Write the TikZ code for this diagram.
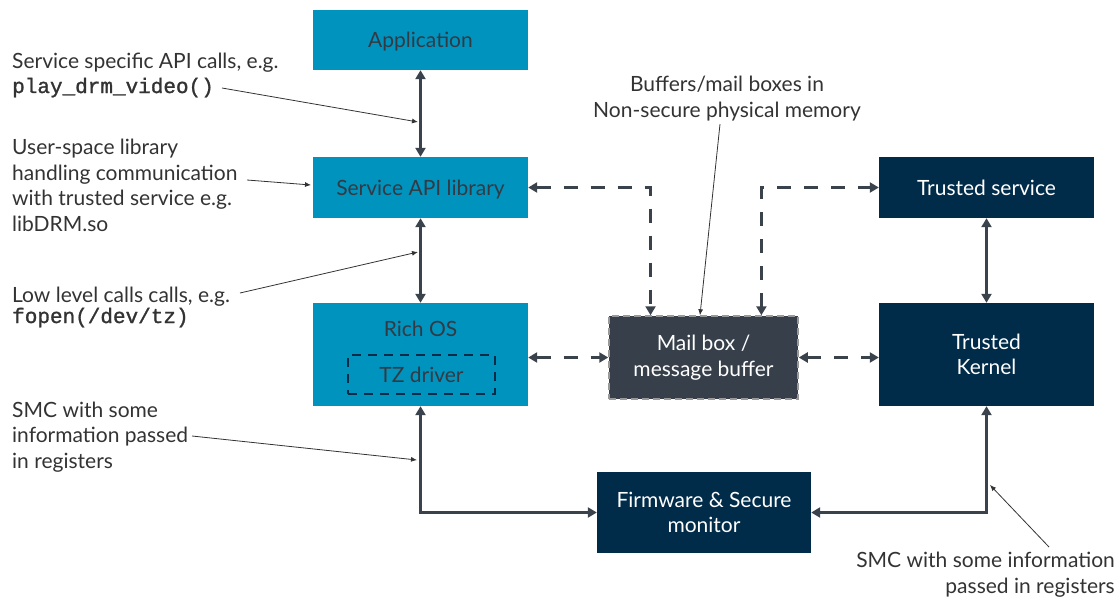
\documentclass[tikz,border=0pt]{standalone}
\usepackage{fontspec}
\setmainfont{Lato}
\newfontfamily\monofnt[FakeBold=1.3]{Liberation Mono}
\usetikzlibrary{arrows.meta,calc}
\definecolor{cyanbox}{HTML}{0093BE}
\definecolor{navybox}{HTML}{002B49}
\definecolor{mailbox}{HTML}{37404A}
\definecolor{arrowc}{HTML}{3A424C}
\definecolor{textc}{HTML}{333A44}
\definecolor{annc}{HTML}{333333}
\tikzset{
  box/.style={draw=none, minimum width=215pt, inner sep=0pt, align=center, font=\fontsize{21}{25.5}\selectfont},
  oneline/.style={text height=15pt, text depth=0pt},
  cyan/.style={box, fill=cyanbox, text=textc},
  navy/.style={box, fill=navybox, text=white},
  ann/.style={font=\fontsize{21}{25.5}\selectfont, text=annc, inner sep=0pt, align=left},
  mono/.style={font=\fontsize{21}{25}\selectfont\monofnt, text=annc, inner sep=0pt},
  thick arrow/.style={draw=arrowc, line width=2.8pt, {Triangle[length=9pt,width=10pt]}-{Triangle[length=9pt,width=10pt]}},
  dash arrow/.style={draw=arrowc, line width=2.8pt, dash pattern=on 14pt off 13pt, {Triangle[length=9pt,width=10pt]}-{Triangle[length=9pt,width=10pt]}},
  pointer/.style={draw=annc, line width=0.8pt, -{Latex[length=6pt,width=5pt]}}
}
\begin{document}
\begin{tikzpicture}[x=1pt,y=-1pt]
\useasboundingbox (0,0) rectangle (1119,597);
% boxes
\node[cyan, oneline, minimum height=60pt] (app) at (420.5,40) {Application};
\node[cyan, oneline, minimum height=61pt] (svc) at (420.5,187.5) {Service API library};
\node[cyan, minimum height=103pt] (rich) at (420.5,354.5) {};
\node[text=textc, oneline, font=\fontsize{21}{25}\selectfont, inner sep=0pt] (richtxt) at (420.5,329) {Rich OS};
\node[draw=navybox, line width=1.6pt, dash pattern=on 9pt off 7pt, minimum width=147pt, minimum height=39pt, inner sep=0pt, text=textc, font=\fontsize{21}{25}\selectfont] (tz) at (421.5,374.5) {TZ driver};
\node[box, fill=mailbox, draw=gray!80, line width=1.5pt, dash pattern=on 7pt off 4pt, minimum width=189pt, minimum height=83pt, text=white] (mail) at (703.5,357.5) {Mail box /\\message buffer};
\node[navy, oneline, minimum height=61pt] (ts) at (986.5,187.5) {Trusted service};
\node[navy, minimum height=103pt] (tk) at (986.5,354.5) {Trusted\\Kernel};
\node[navy, minimum width=214pt, minimum height=81pt] (fw) at (704,512.5) {Firmware \& Secure\\monitor};
% solid connectors
\draw[thick arrow] (app.south) -- (svc.north);
\draw[thick arrow] (svc.south) -- (rich.north);
\draw[thick arrow] (ts.south) -- (tk.north);
\draw[thick arrow] (rich.south) |- (fw.west);
\draw[thick arrow] (tk.south) |- (fw.east);
% dashed connectors
\draw[dash arrow] (svc.east) -| ($(mail.north west)!0.222!(mail.north east)$);
\draw[dash arrow] ($(mail.north west)!0.804!(mail.north east)$) |- (ts.west);
\draw[dash arrow] (rich.east |- mail.west) -- (mail.west);
\draw[dash arrow] (mail.east) -- (tk.west |- mail.east);
% annotations
\node[ann, anchor=base west] (a1) at (12,68) {Service specific API calls, e.g.};
\node[mono, anchor=base west] (a1m) at (12,93) {play\_drm\_video()};
\coordinate (s1) at (222,88);
\coordinate (p1) at (418,122);
\draw[pointer] (s1) -- (p1);
\node[ann, anchor=base west] (a2) at (12,231) {User-space library\\handling communication\\with trusted service e.g.\\libDRM.so};
\coordinate (p2) at (311,185);
\coordinate (s2) at (247,180);
\draw[pointer] (s2) -- (p2);
\node[ann, anchor=base west] (a3) at (12,302) {Low level calls calls, e.g.};
\node[mono, anchor=base west] (a3m) at (12,323) {fopen(/dev/tz)};
\coordinate (s3) at (240,293);
\coordinate (p3) at (418,252);
\draw[pointer] (s3) -- (p3);
\node[ann, anchor=base west] (a4) at (12,468) {SMC with some\\information passed\\in registers};
\coordinate (s4) at (192,436);
\coordinate (p4) at (417,460);
\draw[pointer] (s4) -- (p4);
\node[ann, anchor=base, align=center] (a5) at (727,117) {Buffers/mail boxes in\\Non-secure physical memory};
\coordinate (s5) at (720,124);
\draw[pointer] (s5) -- (mail.north -| 700,0);
\node[ann, anchor=base east, align=right] (a6) at (1115,593) {SMC with some information\\passed in registers};
\coordinate (s6) at (1049,547);
\coordinate (p6) at (990,485);
\draw[pointer] (s6) -- (p6);
\end{tikzpicture}
\end{document}
